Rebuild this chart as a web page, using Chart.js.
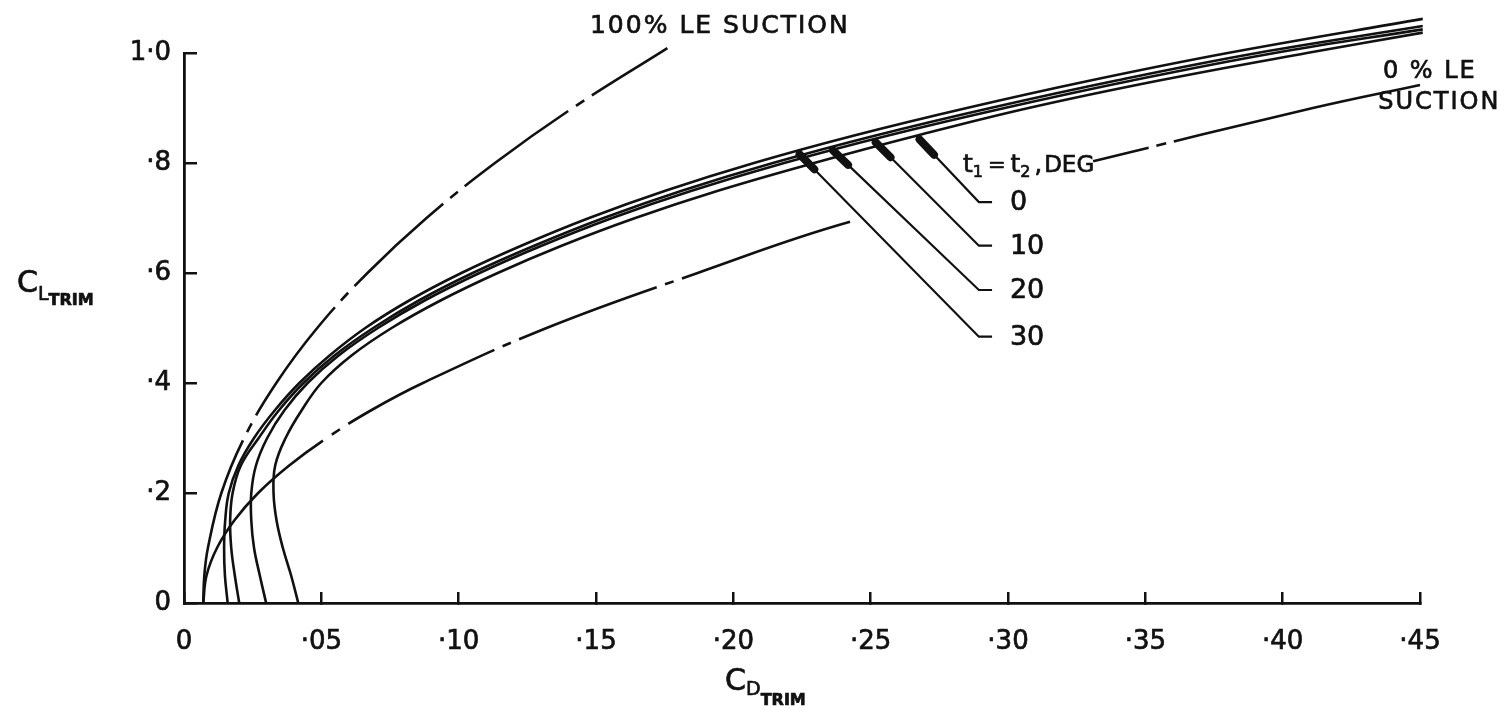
<!DOCTYPE html>
<html>
<head>
<meta charset="utf-8">
<script src="https://cdn.jsdelivr.net/npm/chart.js@4.4.1/dist/chart.umd.min.js"></script>
<style>
  html, body { margin: 0; padding: 0; background: #fff; }
  #wrap { width: 1499px; height: 710px; }
</style>
</head>
<body>
<div id="wrap"><canvas id="polar" width="1499" height="710"></canvas></div>
<script>
// Trimmed lift vs trimmed drag, t1 = t2 settings plus the two leading-edge suction bounds

const xTickValues = [0, 0.05, 0.10, 0.15, 0.20, 0.25, 0.30, 0.35, 0.40, 0.45];
const xTickLabels = ['0', '·05', '·10', '·15', '·20', '·25', '·30', '·35', '·40', '·45'];
const yTickValues = [0, 0.2, 0.4, 0.6, 0.8, 1.0];
const yTickLabels = ['0', '·2', '·4', '·6', '·8', '1·0'];

// t1 = t2 = 30 deg
const cl30 = [0, .05, .10, .15, .20, .25, .30, .35, .40, .45, .50, .55, .60, .65, .70, .75, .80, .85, .90, .95, 1.00, 1.062];
const cd30 = [.0159, .0149, .0146, .0150, .0163, .0198, .0255, .0330, .0420, .0530, .0660, .0820, .1010, .1230, .1475, .1755, .2075, .2440, .2850, .3300, .3800, .4510];
// t1 = t2 = 20 deg
const cl20 = [0, .05, .10, .15, .20, .25, .30, .35, .40, .45, .50, .55, .60, .65, .70, .75, .80, .85, .90, .95, 1.00, 1.049];
const cd20 = [.0201, .0185, .0172, .0168, .0177, .0207, .0272, .0345, .0435, .0548, .0689, .0855, .1051, .1277, .1528, .1815, .2144, .2518, .2936, .3395, .3907, .4510];
// t1 = t2 = 10 deg
const cl10 = [0, .05, .10, .15, .20, .25, .30, .35, .40, .45, .50, .55, .60, .65, .70, .75, .80, .85, .90, .95, 1.00, 1.043];
const cd10 = [.0299, .0276, .0255, .0245, .0245, .0262, .0303, .0365, .0450, .0563, .0706, .0876, .1076, .1304, .1559, .1851, .2185, .2564, .2988, .3452, .3971, .4510];
// t1 = t2 = 0 deg
const cl00 = [0, .05, .10, .15, .20, .25, .30, .35, .40, .45, .50, .55, .60, .65, .70, .75, .80, .85, .90, .95, 1.00, 1.037];
const cd00 = [.0416, .0390, .0360, .0337, .0326, .0332, .0370, .0428, .0500, .0610, .0756, .0934, .1142, .1377, .1643, .1947, .2294, .2670, .3075, .3550, .4088, .4510];

// 100% and 0% leading-edge suction
const clFull = [0, .05, .10, .20, .30, .40, .50, .60, .70, .80, .90, 1.009];
const cdFull = [.0070, .0074, .0087, .0136, .0219, .0336, .0485, .0668, .0883, .1132, .1415, .1760];
const clNone = [0, .05, .10, .15, .20, .25, .30, .35, .40, .50, .60, .693, .803, .90, .942];
const cdNone = [.0070, .0082, .0120, .0183, .0270, .0383, .0520, .0680, .0870, .1320, .1870, .2425, .3310, .4110, .4500];

const ink = '#111';
const face = 'DejaVu Sans';

function pairs(cd, cl) {
    return cd.map((v, i) => ({ x: v, y: cl[i] }));
}

function curve(cd, cl, dash) {
    return {
        data: pairs(cd, cl),
        showLine: true,
        borderColor: ink,
        borderWidth: 2.6,
        borderDash: dash || [],
        pointRadius: 0,
        tension: 0.4,
        fill: false,
        clip: false
    };
}

// long dash / gap / short dash runs, walked from the CL = 0 end
const fullDash = [169, 9, 10, 9, 134, 9, 11, 9, 121, 9, 10, 9, 128, 9, 10, 9, 400];
const noneDash = [210, 10, 10, 10, 164, 9, 9, 9, 147, 9, 9, 9, 400];
const noneDashUpper = [57, 8, 10, 8, 400];

// the 0% line is broken where the t1 = t2 labels sit
const noneCurve = curve(cdNone, clNone, noneDash);
noneCurve.segment = {
    borderColor: c => (c.p0.parsed.y > 0.69 && c.p1.parsed.y < 0.81) ? 'rgba(0,0,0,0)' : undefined,
    borderDash: c => (c.p0.parsed.y > 0.8) ? noneDashUpper : undefined
};

// pointer leaders: tip on the curve, elbow on a common CD, label to the right
const pointers = [
    { label: '0',  tip: [.2668, .848], at: .729 },
    { label: '10', tip: [.2508, .8426], at: .6496 },
    { label: '20', tip: [.2352, .828], at: .5691 },
    { label: '30', tip: [.2231, .821], at: .4842 }
];
const elbowCD = .2894, stubCD = .2942, labelCD = .3007;

function inkText(ctx, t, x, y) {
    ctx.fillText(t, x, y);
    ctx.strokeText(t, x, y);
}

// draw a run of text pieces with their own size / vertical shift
function runs(ctx, x, y, parts) {
    parts.forEach(p => {
        ctx.font = (p.bold ? 'bold ' : '') + p.size + 'px "' + face + '"';
        inkText(ctx, p.t, x, y + (p.dy || 0));
        x += ctx.measureText(p.t).width + (p.gap || 0);
    });
    return x;
}

const decor = {
    id: 'decor',
    afterDraw(chart) {
        const ctx = chart.ctx;
        const sx = chart.scales.x, sy = chart.scales.y;
        const px = v => sx.getPixelForValue(v);
        const py = v => sy.getPixelForValue(v);

        ctx.save();
        ctx.strokeStyle = ink;
        ctx.fillStyle = ink;

        pointers.forEach(p => {
            const tx = px(p.tip[0]), ty = py(p.tip[1]);
            const ex = px(elbowCD), ey = py(p.at);
            ctx.lineWidth = 2.2;
            ctx.beginPath();
            ctx.moveTo(tx, ty);
            ctx.lineTo(ex, ey);
            ctx.lineTo(px(stubCD), ey);
            ctx.stroke();
            const len = Math.hypot(ex - tx, ey - ty);
            const ux = (ex - tx) / len, uy = (ey - ty) / len;
            ctx.lineWidth = 8;
            ctx.lineCap = 'round';
            ctx.beginPath();
            ctx.moveTo(tx + ux * 4, ty + uy * 4);
            ctx.lineTo(tx + ux * 25, ty + uy * 25);
            ctx.stroke();
            ctx.lineCap = 'butt';
            ctx.lineWidth = 0.7;
            ctx.font = '27px "' + face + '"';
            ctx.textAlign = 'left';
            ctx.textBaseline = 'middle';
            inkText(ctx, p.label, px(labelCD), ey + 1);
        });

        ctx.textAlign = 'left';
        ctx.textBaseline = 'alphabetic';
        ctx.lineWidth = 0.7;

        // t1 = t2 , DEG
        runs(ctx, px(.2836), py(.7836), [
            { t: 't', size: 25 },
            { t: '1', size: 16, dy: 5, gap: 5 },
            { t: '=', size: 21, gap: 5 },
            { t: 't', size: 25 },
            { t: '2', size: 16, dy: 5, gap: 4 },
            { t: ',', size: 24, gap: 2 },
            { t: 'DEG', size: 23 }
        ]);

        ctx.letterSpacing = '2px';
        ctx.font = '25px "' + face + '"';
        inkText(ctx, '100% LE SUCTION', px(.1478), py(1.036));
        ctx.font = '24px "' + face + '"';
        inkText(ctx, '0 % LE', px(.4365), py(.955));
        inkText(ctx, 'SUCTION', px(.4348), py(.899));
        ctx.letterSpacing = '0px';

        // axis titles with subscripts
        runs(ctx, 17, py(.565), [
            { t: 'C', size: 30 },
            { t: 'L', size: 19, dy: 8 },
            { t: 'TRIM', size: 16, dy: 13, bold: true }
        ]);
        runs(ctx, px(.197), 690, [
            { t: 'C', size: 30 },
            { t: 'D', size: 19, dy: 5 },
            { t: 'TRIM', size: 16, dy: 15, bold: true }
        ]);
        ctx.restore();
    }
};

new Chart(document.getElementById('polar'), {
    type: 'scatter',
    data: {
        datasets: [
            curve(cd30, cl30),
            curve(cd20, cl20),
            curve(cd10, cl10),
            curve(cd00, cl00),
            curve(cdFull, clFull, fullDash),
            noneCurve
        ]
    },
    options: {
        responsive: false,
        devicePixelRatio: 1,
        animation: false,
        events: [],
        layout: { padding: { left: 0, top: 53, right: 79, bottom: 0 } },
        plugins: { legend: { display: false }, tooltip: { enabled: false } },
        scales: {
            x: {
                type: 'linear',
                min: 0,
                max: 0.45,
                afterBuildTicks: s => { s.ticks = xTickValues.map(v => ({ value: v })); },
                afterFit: s => { s.height = 107; },
                grid: { drawOnChartArea: false, drawTicks: true, tickLength: -11, lineWidth: 2.5, color: ink },
                border: { display: true, width: 2.8, color: ink },
                ticks: {
                    autoSkip: false, maxRotation: 0, padding: 35, color: ink,
                    textStrokeColor: ink, textStrokeWidth: 0.7,
                    font: { family: face, size: 26 },
                    callback: (v, i) => xTickLabels[i]
                }
            },
            y: {
                type: 'linear',
                min: 0,
                max: 1.0,
                afterBuildTicks: s => { s.ticks = yTickValues.map(v => ({ value: v })); },
                afterFit: s => { s.width = 184; },
                grid: { drawOnChartArea: false, drawTicks: true, tickLength: -13, lineWidth: 2.5, color: ink },
                border: { display: true, width: 2.8, color: ink },
                ticks: {
                    autoSkip: false, padding: 26, color: ink,
                    textStrokeColor: ink, textStrokeWidth: 0.7,
                    font: { family: face, size: 26 },
                    callback: (v, i) => yTickLabels[i]
                }
            }
        }
    },
    plugins: [decor]
});
</script>
</body>
</html>
